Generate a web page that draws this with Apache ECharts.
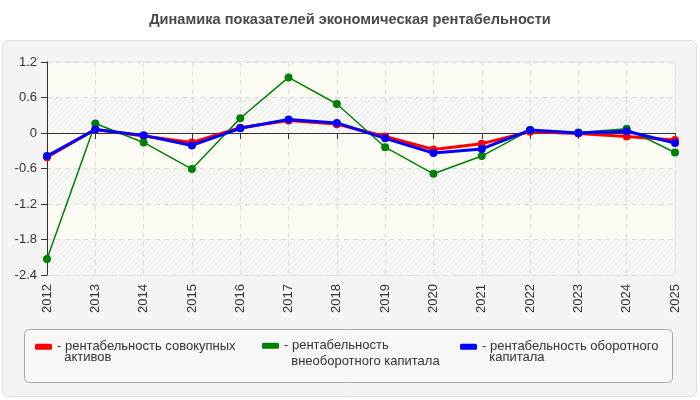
<!DOCTYPE html>
<html>
<head>
<meta charset="utf-8">
<style>
  html, body { margin: 0; padding: 0; background: #fff; }
  #chart { width: 700px; height: 400px; }
</style>
<script src="https://cdn.jsdelivr.net/npm/echarts@6/dist/echarts.min.js"></script>
</head>
<body>
<div id="chart"></div>
<script>
const years = ['2012', '2013', '2014', '2015', '2016', '2017', '2018', '2019', '2020', '2021', '2022', '2023', '2024', '2025']
const totalAssets = [-0.41, 0.06, -0.05, -0.16, 0.09, 0.21, 0.15, -0.06, -0.28, -0.18, 0.02, -0.01, -0.06, -0.12]
const fixedCapital = [-2.13, 0.16, -0.16, -0.61, 0.25, 0.94, 0.49, -0.24, -0.69, -0.39, 0.05, 0.01, 0.07, -0.33]
const workingCapital = [-0.39, 0.06, -0.04, -0.21, 0.08, 0.23, 0.17, -0.09, -0.34, -0.27, 0.05, 0.0, 0.03, -0.17]
const yTicks = [-2.4, -1.8, -1.2, -0.6, 0, 0.6, 1.2]

const seriesNames = [
  'рентабельность совокупных\nактивов',
  'рентабельность\nвнеоборотного капитала',
  'рентабельность оборотного\nкапитала'
]

// штриховка для полос сетки
function hatch() {
  const c = document.createElement('canvas')
  c.width = 5
  c.height = 5
  const ctx = c.getContext('2d')
  ctx.fillStyle = '#fbfbf9'
  ctx.fillRect(0, 0, 5, 5)
  ctx.strokeStyle = '#e6e6e6'
  ctx.lineWidth = 1
  ctx.beginPath()
  ctx.moveTo(0, 5)
  ctx.lineTo(5, 0)
  ctx.moveTo(-1, 1)
  ctx.lineTo(1, -1)
  ctx.moveTo(4, 6)
  ctx.lineTo(6, 4)
  ctx.stroke()
  return { image: c, repeat: 'repeat' }
}

const chart = echarts.init(document.getElementById('chart'))
const font = '"Liberation Sans", Arial, sans-serif'

// пустая первая строка: значок встаёт напротив первой строки подписи
function legendFor(name, left, lh) {
  return {
    data: [name],
    left: left,
    top: 345.7 - lh * 1.5,
    padding: 0,
    icon: 'roundRect',
    itemWidth: 17,
    itemHeight: 6,
    selectedMode: false,
    formatter: n => '\n- ' + n.replace('\n', '\n  '),
    textStyle: {
      fontFamily: font,
      fontSize: 13,
      color: '#333',
      lineHeight: lh
    }
  }
}

function lineSeries(name, data, color, width) {
  return {
    name: name,
    type: 'line',
    data: data,
    symbol: 'circle',
    symbolSize: 8,
    color: color,
    lineStyle: { color: color, width: width },
    itemStyle: { color: color },
    animation: false
  }
}

chart.setOption({
  backgroundColor: '#fff',
  title: {
    text: 'Динамика показателей экономическая рентабельности',
    left: 'center',
    top: 12,
    padding: 0,
    textStyle: {
      fontFamily: font,
      fontSize: 14.6,
      fontWeight: 'bold',
      color: '#4a4a4a'
    }
  },
  graphic: [
    {
      type: 'rect',
      z: -10,
      shape: { x: 2.5, y: 40.5, width: 694, height: 356, r: 6 },
      style: { fill: '#f4f4f4', stroke: '#dddddd', lineWidth: 1 }
    },
    {
      type: 'rect',
      z: -9,
      shape: { x: 24.5, y: 329.5, width: 648, height: 53, r: 4 },
      style: { fill: '#f7f7f7', stroke: '#aaaaaa', lineWidth: 1 }
    }
  ],
  legend: [
    legendFor(seriesNames[0], 35, 11),
    legendFor(seriesNames[1], 262, 15.6),
    legendFor(seriesNames[2], 460, 11)
  ],
  grid: {
    left: 47,
    right: 25,
    top: 62,
    bottom: 125,
    show: true,
    borderColor: '#dddddd',
    borderWidth: 1
  },
  xAxis: {
    type: 'category',
    data: years,
    boundaryGap: false,
    axisLine: { lineStyle: { color: '#333', width: 1 } },
    axisTick: { show: true, length: 6, lineStyle: { color: '#333' } },
    splitLine: { show: true, lineStyle: { color: '#dddddd', type: [5, 4] } },
    axisLabel: {
      rotate: 90,
      margin: 9,
      fontFamily: font,
      fontSize: 13,
      color: '#333'
    }
  },
  yAxis: {
    type: 'value',
    min: -2.4,
    max: 1.2,
    interval: 0.6,
    axisLine: { show: true, lineStyle: { color: '#333', width: 1 } },
    axisTick: { show: true, length: 6, lineStyle: { color: '#333' } },
    splitLine: { show: true, lineStyle: { color: '#dddddd', type: [5, 4] } },
    splitArea: {
      show: true,
      areaStyle: { color: [hatch(), '#fcfcf5'] }
    },
    axisLabel: {
      margin: 10,
      fontFamily: font,
      fontSize: 13,
      color: '#333',
      formatter: function(v) {
        const t = yTicks.find(x => Math.abs(x - v) < 1e-6)
        return t === undefined ? '' : String(t)
      }
    }
  },
  series: [
    lineSeries(seriesNames[0], totalAssets, '#ff0000', 3),
    lineSeries(seriesNames[1], fixedCapital, '#008000', 1.5),
    lineSeries(seriesNames[2], workingCapital, '#0000ff', 3)
  ]
})
</script>
</body>
</html>
